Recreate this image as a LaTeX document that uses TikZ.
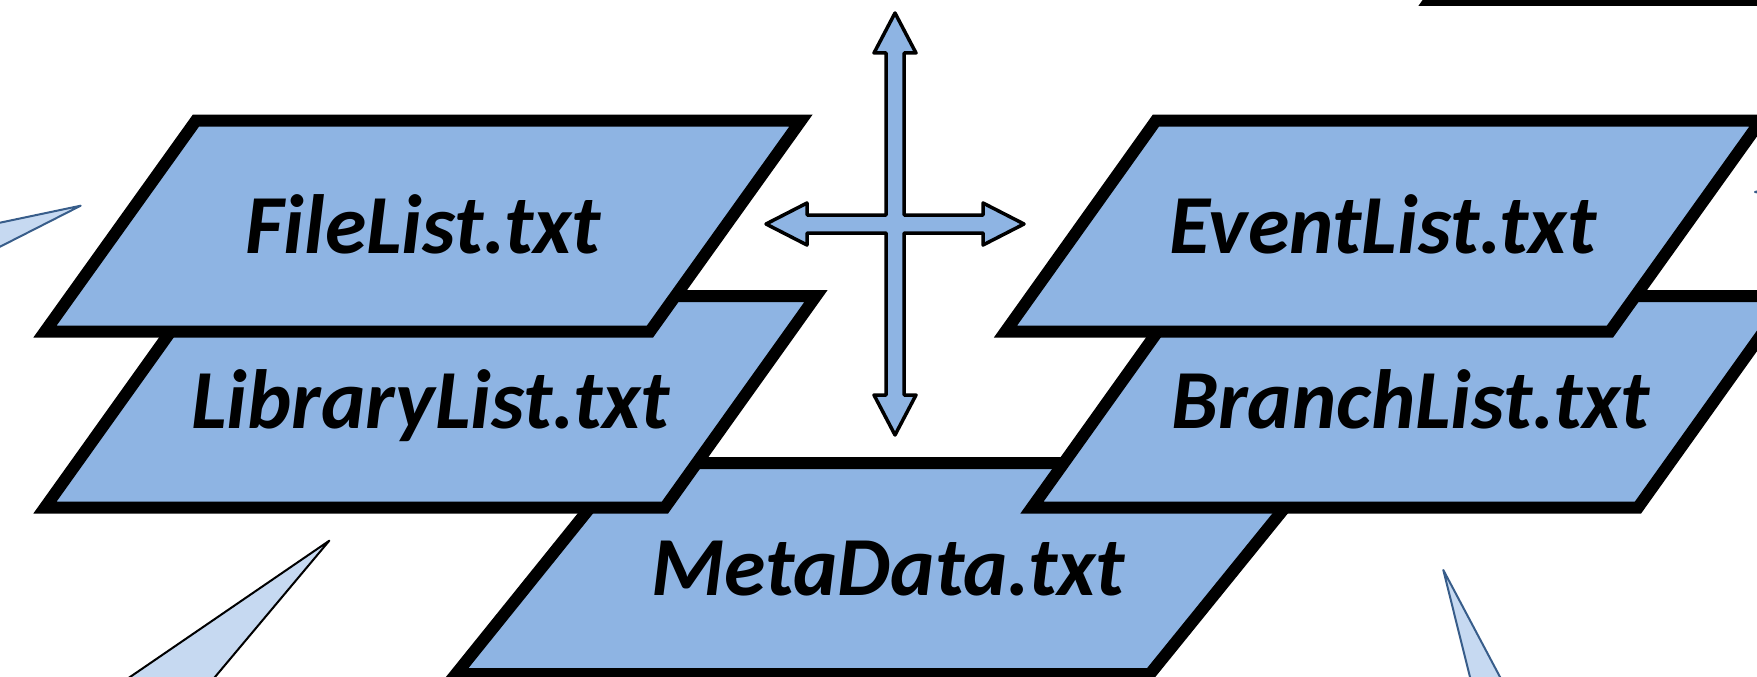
\documentclass[tikz,border=0pt]{standalone}
\usepackage{fontspec}
\setmainfont{Carlito}
\definecolor{boxfill}{RGB}{142,180,227}
\definecolor{callfill}{RGB}{198,217,241}
\definecolor{callline}{RGB}{56,93,138}
\begin{document}
\begin{tikzpicture}[x=1pt,y=-1pt,
  filebox/.style={fill=boxfill,draw=black,line width=12pt,line join=miter},
  filename/.style={font=\fontsize{84}{100}\selectfont\bfseries\itshape,inner sep=0pt,anchor=base},
  calloutblue/.style={fill=callfill,draw=callline,line width=2pt,line join=round},
  calloutblack/.style={fill=callfill,draw=black,line width=2pt,line join=round},
  crossarrow/.style={fill=boxfill,draw=black,line width=3.5pt,line join=round}]
\useasboundingbox (0,0) rectangle (1757,677);
\clip (0,0) rectangle (1757,677);

% callout tips around the stack
\draw[calloutblue]  (80.7,205.7) -- (-20,226.9) -- (-20,256.9) -- cycle;
\draw[calloutblack] (329.3,540.7) -- (96.4,700) -- (195.7,700) -- cycle;
\draw[calloutblue]  (1443.3,570) -- (1475.7,700) -- (1512.2,700) -- cycle;
\draw[calloutblue]  (1755,192) -- (1800,180) -- (1800,200) -- cycle;

% file sheets, back to front
\draw[filebox] (1430,0) -- (2035,0) -- (2186,-211) -- (1581,-211) -- cycle;
\draw[filebox] (456,674) -- (1150,674) -- (1321,463) -- (626,463) -- cycle;
\node[filename] (metadata) at (888,595) {MetaData.txt};
\draw[filebox] (45,507.5) -- (665,507.5) -- (816,296) -- (196,296) -- cycle;
\node[filename] (librarylist) at (430.5,428.5) {LibraryList.txt};
\draw[filebox] (1032,507.5) -- (1638,507.5) -- (1789,296) -- (1183,296) -- cycle;
\node[filename] (branchlist) at (1410.5,428.5) {BranchList.txt};
\draw[filebox] (45,331.5) -- (650,331.5) -- (801,120.5) -- (196,120.5) -- cycle;
\node[filename] (filelist) at (423,253) {FileList.txt};
\draw[filebox] (1005.5,331.5) -- (1610,331.5) -- (1761,120.5) -- (1156,120.5) -- cycle;
\node[filename] (eventlist) at (1383,253) {EventList.txt};

% four-way arrow
\draw[crossarrow, shift={(895,224)}]
  (9,-9) -- (9,-171) -- (21,-171) -- (0,-211) -- (-21,-171) -- (-9,-171) -- (-9,-9)
  -- (-88,-9) -- (-88,-21) -- (-129,0) -- (-88,21) -- (-88,9) -- (-9,9)
  -- (-9,171) -- (-21,171) -- (0,211) -- (21,171) -- (9,171) -- (9,9)
  -- (88,9) -- (88,21) -- (129,0) -- (88,-21) -- (88,-9) -- cycle;
\end{tikzpicture}
\end{document}
